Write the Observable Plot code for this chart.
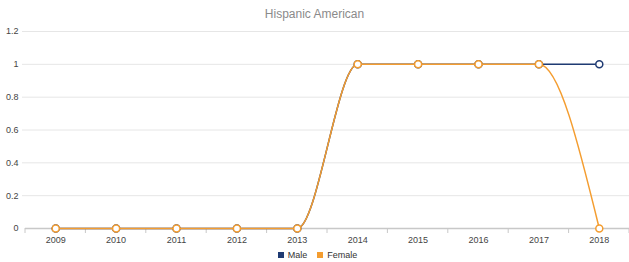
<!DOCTYPE html>
<html>
<head>
<meta charset="utf-8">
<script src="https://cdn.jsdelivr.net/npm/d3@7"></script>
<script src="https://cdn.jsdelivr.net/npm/@observablehq/plot@0.6"></script>
<style>
  html, body { margin: 0; padding: 0; background: #fff; }
  body { width: 629px; height: 262px; overflow: hidden; font-family: "Liberation Sans", Arial, sans-serif; }
  #title { height: 22px; line-height: 28px; text-align: center; font-size: 12px; color: #8a8a8a; }
  #legend { display: flex; justify-content: center; gap: 10px; font-size: 9px; color: #333; height: 15px; align-items: center; margin-left: 6px; }
  #legend span.sw { display: inline-block; width: 6px; height: 6px; margin-right: 4px; vertical-align: middle; }
</style>
</head>
<body>
<div id="title">Hispanic American</div>
<div id="chart"></div>
<div id="legend"></div>
<script>
const years = [2009, 2010, 2011, 2012, 2013, 2014, 2015, 2016, 2017, 2018];
const male = [0, 0, 0, 0, 0, 1, 1, 1, 1, 1];
const female = [0, 0, 0, 0, 0, 1, 1, 1, 1, 0];
const yTicks = [0, 0.2, 0.4, 0.6, 0.8, 1, 1.2];
const seriesNames = ["Male", "Female"];
const seriesColors = ["#1f3b73", "#f49d30"];

const maleData = years.map((y, i) => ({year: y, value: male[i]}));
const femaleData = years.map((y, i) => ({year: y, value: female[i]}));
const bandEdges = [...years.map(y => y - 0.5), years[years.length - 1] + 0.5];

const chart = Plot.plot({
  width: 629,
  height: 225,
  marginLeft: 25,
  marginRight: 0,
  marginTop: 9,
  marginBottom: 19,
  style: {fontFamily: "Liberation Sans, Arial, sans-serif", fontSize: "9px", color: "#333", background: "#fff"},
  x: {type: "linear", domain: [2008.5, 2018.5], axis: null},
  y: {domain: [0, 1.2], axis: null},
  marks: [
    Plot.ruleY(yTicks.filter(d => d > 0), {stroke: "#e6e6e6", strokeWidth: 1, x1: 2008.45, x2: 2018.5}),
    Plot.text(yTicks, {x: 2008.5, y: d => d, text: d => String(d), textAnchor: "end", dx: -7, fill: "#444", fontSize: 9}),
    Plot.ruleY([0], {stroke: "#c8c8c8", strokeWidth: 1.5}),
    Plot.text(years, {x: d => d, y: 0, text: d => String(d), dy: 12, fill: "#444", fontSize: 9}),
    Plot.line(maleData, {x: "year", y: "value", stroke: seriesColors[0], strokeWidth: 1.5, curve: "monotone-x"}),
    Plot.dot(maleData, {x: "year", y: "value", r: 3.5, stroke: seriesColors[0], strokeWidth: 1.5, fill: "#fff"}),
    Plot.line(femaleData, {x: "year", y: "value", stroke: seriesColors[1], strokeWidth: 1.5, curve: "monotone-x"}),
    Plot.dot(femaleData, {x: "year", y: "value", r: 3.5, stroke: seriesColors[1], strokeWidth: 1.5, fill: "#fff"})
  ]
});
// tick marks below axis at band edges
const xs = chart.scale("x"), ys = chart.scale("y");
const svg = d3.select(chart);
svg.insert("g", ":first-child").selectAll("line").data(bandEdges).join("line")
  .attr("x1", d => xs.apply(d)).attr("x2", d => xs.apply(d))
  .attr("y1", ys.apply(0)).attr("y2", ys.apply(0) + 5)
  .attr("stroke", "#c8c8c8");
document.getElementById("chart").appendChild(chart);

const legend = document.getElementById("legend");
seriesNames.forEach((n, i) => {
  const item = document.createElement("div");
  item.innerHTML = `<span class="sw" style="background:${seriesColors[i]}"></span>${n}`;
  legend.appendChild(item);
});
</script>
</body>
</html>
